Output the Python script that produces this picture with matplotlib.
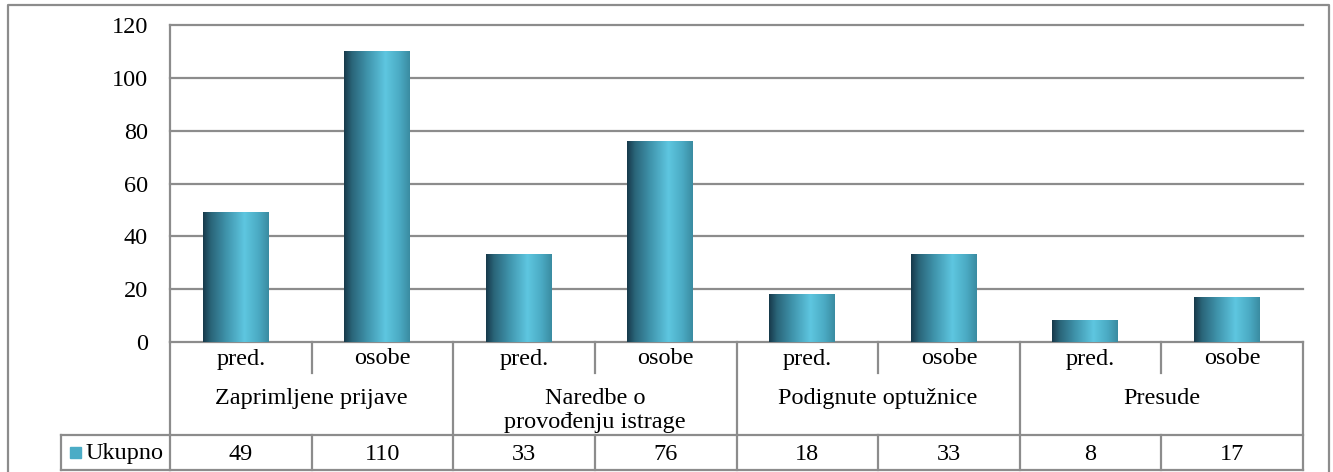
import matplotlib
matplotlib.use('Agg')
import matplotlib.pyplot as plt
import numpy as np
from matplotlib.colors import LinearSegmentedColormap
from matplotlib.transforms import blended_transform_factory

groups = ['Zaprimljene prijave', 'Naredbe o\nprovođenju istrage',
          'Podignute optužnice', 'Presude']
subs = ['pred.', 'osobe']
series_name = 'Ukupno'
values = [49, 110, 33, 76, 18, 33, 8, 17]
yticks = [0, 20, 40, 60, 80, 100, 120]

W, H = 1333, 472
GRAY = '#8c8c8c'
FONT = 'Liberation Serif'
FS = 17.5

plt.rcParams['font.family'] = [FONT, 'DejaVu Serif']

fig = plt.figure(figsize=(W / 100, H / 100), dpi=100)

# overlay in pixel coordinates (y down) for frame and table
ov = fig.add_axes([0, 0, 1, 1], zorder=0)
ov.set_xlim(0, W)
ov.set_ylim(H, 0)
ov.axis('off')
ov.patch.set_visible(False)

# plot area
ax = fig.add_axes([170 / W, (H - 342) / H, 1133 / W, 317 / H], zorder=1)
ax.patch.set_visible(False)

cmap = LinearSegmentedColormap.from_list(
    'cyl', [(0.0, '#17394a'), (0.12, '#2a6579'), (0.35, '#3f93ab'),
            (0.63, '#5ec6e0'), (0.85, '#4aa9c2'), (1.0, '#3a8ba1')])
grad = np.linspace(0, 1, 256).reshape(1, -1)

n = len(values)
xs = np.arange(n)
bw = 0.46
for x, v in zip(xs, values):
    ax.imshow(grad, cmap=cmap, aspect='auto', zorder=3,
              extent=[x - 0.04 - bw / 2, x - 0.04 + bw / 2, 0, v])

ax.set_xlim(-0.5, n - 0.5)
ax.set_ylim(0, 120)
for t in yticks:
    ax.axhline(t, color=GRAY, lw=1.6, zorder=1, clip_on=False)
ax.set_yticks(yticks)
ax.set_yticklabels([str(t) for t in yticks], fontsize=FS, family=FONT)
ax.tick_params(axis='y', length=0, pad=16)
ax.set_xticks([])
for s in ['top', 'right', 'bottom']:
    ax.spines[s].set_visible(False)
ax.spines['left'].set_color(GRAY)
ax.spines['left'].set_linewidth(1.6)

# table below the axis: x in data units, y in pixels
bt = blended_transform_factory(ax.transData, ov.transData)
y_axis, y_sub, y_row, y_bot = 342, 373, 435, 470
lkw = dict(color=GRAY, lw=1.6, transform=bt, clip_on=False)

for i in range(len(groups) + 1):
    xb = 2 * i - 0.5
    ov.plot([xb, xb], [y_axis, y_bot], **lkw)
for i in range(len(groups)):
    xm = 2 * i + 0.5
    ov.plot([xm, xm], [y_axis, y_sub], **lkw)
    ov.plot([xm, xm], [y_row, y_bot], **lkw)
    ov.text(2 * i + 0.5, 388, groups[i], transform=bt, ha='center', va='top',
            fontsize=FS, family=FONT, linespacing=1.2)

ov.plot([-0.5, n - 0.5], [y_row, y_row], **lkw)
ov.plot([-0.5, n - 0.5], [y_bot, y_bot], **lkw)

for x, v in zip(xs, values):
    ov.text(x, 359, subs[x % 2], transform=bt, ha='center', va='center',
            fontsize=FS, family=FONT)
    ov.text(x, 454, str(v), transform=bt, ha='center', va='center',
            fontsize=FS, family=FONT)

# legend cell
ov.plot([61, 170], [y_row, y_row], color=GRAY, lw=1.6)
ov.plot([61, 170], [y_bot, y_bot], color=GRAY, lw=1.6)
ov.plot([61, 61], [y_row, y_bot], color=GRAY, lw=1.6)
ov.add_patch(plt.Rectangle((70, 447), 11, 11, color='#4bacc6'))
ov.text(86, 454, series_name, ha='left', va='center', fontsize=FS, family=FONT)

# outer frame
ov.plot([8, 8, 1329, 1329], [H + 5, 5, 5, H + 5], color=GRAY, lw=1.6)

fig.savefig('out.png', dpi=100)
